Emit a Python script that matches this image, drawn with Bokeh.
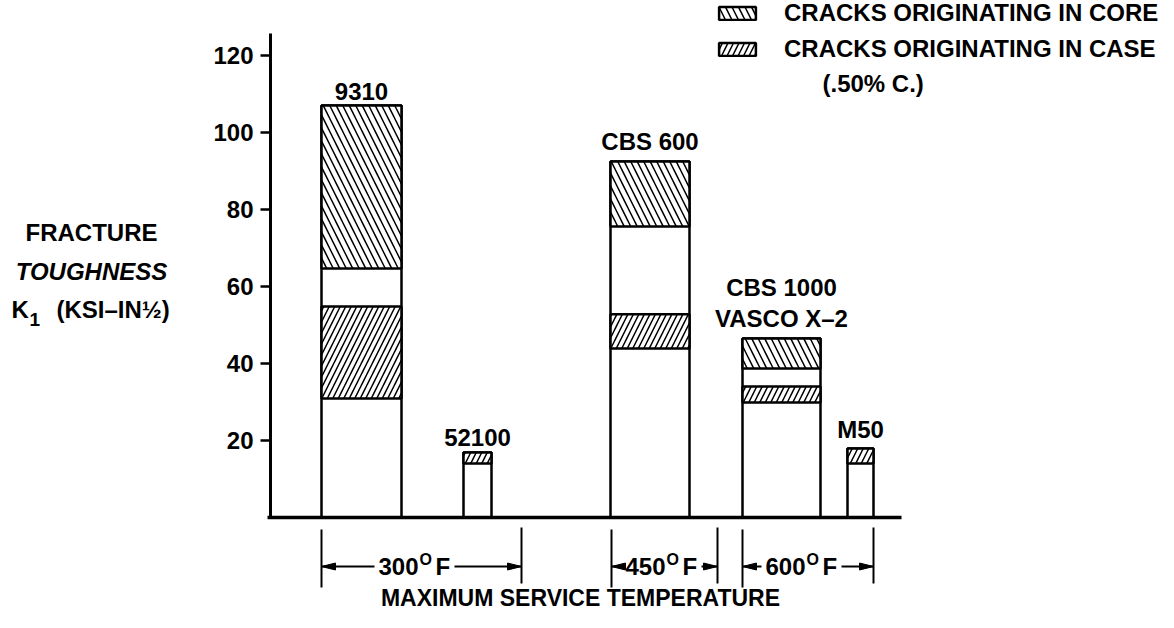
from bokeh.plotting import figure
from bokeh.models import Range1d, LinearAxis, FixedTicker, Legend, LegendItem, ColumnDataSource
from bokeh.core.properties import value
from bokeh.embed import file_html
from bokeh.resources import INLINE

# ---------------- data ----------------
alloys = ["9310", "52100", "CBS 600", "CBS 1000\nVASCO X\u20132", "M50"]
total = [107.0, 16.9, 92.5, 46.5, 17.9]
case_low = [30.9, 14.0, 43.9, 29.9, 14.0]
case_high = [54.8, 16.9, 52.8, 34.0, 17.9]
core_low = [64.7, None, 75.6, 38.7, None]
core_high = [107.0, None, 92.5, 46.5, None]
y_ticks = [20, 40, 60, 80, 100, 120]
temps = ["300", "450", "600"]
legend_labels = ["CRACKS ORIGINATING IN CORE", "CRACKS ORIGINATING IN CASE"]
legend_note = "(.50% C.)"
y_title = ["FRACTURE", "TOUGHNESS"]
x_title = "MAXIMUM SERVICE TEMPERATURE"

# ---------------- layout (pixel positions of the picture) ----------------
W, H = 1158, 612
Y0, PPU = 517.0, 3.85          # pixel row of value 0, pixels per unit


def vy(py):
    return (Y0 - py) / PPU


def du(px):
    return px / PPU


bar_x = [361, 477, 649.5, 781, 860]
bar_w = [80, 28, 79, 78, 26]
brackets = [(321, 521, 418), (611, 717, 665), (742, 873, 805)]
FONT = value("Liberation Sans")
FS = "24px"

p = figure(width=W, height=H, x_range=Range1d(0, W), y_range=Range1d(vy(H), vy(0)),
           x_axis_type=None, y_axis_type=None, output_backend="svg", toolbar_location=None,
           min_border=0, outline_line_color=None, background_fill_color="white",
           border_fill_color="white")

# axes
yaxis = LinearAxis(fixed_location=270, bounds=(0, vy(33)), ticker=FixedTicker(ticks=y_ticks),
                   axis_line_width=3, axis_line_color="black",
                   major_tick_line_width=2.5, major_tick_out=10, major_tick_in=0,
                   minor_tick_out=0, minor_tick_in=0,
                   major_label_text_font="Liberation Sans", major_label_text_font_style="bold",
                   major_label_text_font_size=FS, major_label_text_color="black",
                   major_label_standoff=7)
p.add_layout(yaxis, "left")
xaxis = LinearAxis(fixed_location=0, bounds=(267, 901), ticker=FixedTicker(ticks=[]),
                   axis_line_width=3.5, axis_line_color="black",
                   major_tick_out=0, major_tick_in=0, minor_tick_out=0, minor_tick_in=0,
                   major_label_text_font_size="0px")
p.add_layout(xaxis, "below")

# bars
src = ColumnDataSource(dict(x=bar_x, w=bar_w, total=total, lo=case_low, hi=case_high, name=alloys))
p.vbar(x="x", width="w", bottom=0, top="total", source=src, fill_color="white",
       line_color="black", line_width=2.5)
case_r = p.vbar(x="x", width="w", bottom="lo", top="hi", source=src, fill_color="white",
                hatch_pattern="/", hatch_color="black", hatch_scale=11, hatch_weight=1.5,
                line_color="black", line_width=2.5)
ci = [i for i, v in enumerate(core_low) if v is not None]
core_src = ColumnDataSource(dict(x=[bar_x[i] for i in ci], w=[bar_w[i] for i in ci],
                                 lo=[core_low[i] for i in ci], hi=[core_high[i] for i in ci]))
core_r = p.vbar(x="x", width="w", bottom="lo", top="hi", source=core_src, fill_color="white",
                hatch_pattern="\\", hatch_color="black", hatch_scale=13, hatch_weight=1.5,
                line_color="black", line_width=2.5)

p.text(x="x", y="total", text="name", source=src, text_align="center", text_baseline="bottom",
       y_offset=-6, text_font=FONT, text_font_style="bold", text_font_size=FS,
       text_color="black", text_line_height=1.15)

# legend
legend = Legend(items=[LegendItem(label=legend_labels[0], renderers=[core_r]),
                       LegendItem(label=legend_labels[1], renderers=[case_r])],
                location=(714, 549), glyph_width=46, glyph_height=16, label_standoff=24,
                label_text_font="Liberation Sans", label_text_font_style="bold",
                label_text_font_size=FS, label_text_color="black", spacing=8,
                padding=0, margin=0, border_line_color=None, background_fill_alpha=0)
p.add_layout(legend, "center")
p.text(x=[822], y=[vy(83)], text=[legend_note], text_align="left", text_baseline="middle",
       text_font=FONT, text_font_style="bold", text_font_size=FS, text_color="black")

# y title
p.text(x=[91, 91], y=[vy(232), vy(271)], text=y_title, text_align="center",
       text_baseline="middle", text_font=FONT, text_font_style=["bold", "bold italic"],
       text_font_size=FS, text_color="black")
p.text(x=[11], y=[vy(309)], text=["K"], text_align="left", text_baseline="middle",
       text_font=FONT, text_font_style="bold", text_font_size=FS, text_color="black")
p.text(x=[29], y=[vy(319)], text=["1"], text_align="left", text_baseline="middle",
       text_font=FONT, text_font_style="bold", text_font_size="19px", text_color="black")
p.text(x=[56], y=[vy(309)], text=["(KSI\u2013IN\u00bd)"], text_align="left", text_baseline="middle",
       text_font=FONT, text_font_style="bold", text_font_size=FS, text_color="black")

# temperature brackets
AY = 566
for (xl, xr, xs), t in zip(brackets, temps):
    p.segment(x0=[xl, xr], y0=[vy(529), vy(527)], x1=[xl, xr], y1=[vy(587), vy(583)],
              line_color="black", line_width=2)
    p.text(x=[xs], y=[vy(AY)], text=[t], text_align="right", text_baseline="middle",
           text_font=FONT, text_font_style="bold", text_font_size=FS, text_color="black")
    p.text(x=[xs + 1], y=[vy(AY - 7)], text=["O"], text_align="left", text_baseline="middle",
           text_font=FONT, text_font_style="bold", text_font_size="16px", text_color="black")
    p.text(x=[xs + 17], y=[vy(AY)], text=["F"], text_align="left", text_baseline="middle",
           text_font=FONT, text_font_style="bold", text_font_size=FS, text_color="black")
    ls, rs = xs - 44, xs + 36
    p.segment(x0=[xl, rs], y0=[vy(AY)] * 2, x1=[ls, xr], y1=[vy(AY)] * 2,
              line_color="black", line_width=2)
    hw = du(3.5)
    p.patches(xs=[[xl, xl + 14, xl + 14], [xr, xr - 14, xr - 14]],
              ys=[[vy(AY), vy(AY) + hw, vy(AY) - hw]] * 2,
              fill_color="black", line_color="black", line_width=1)

p.text(x=[580], y=[vy(597)], text=[x_title], text_align="center", text_baseline="middle",
       text_font=FONT, text_font_style="bold", text_font_size="23px", text_color="black")

open("out.html", "w").write(file_html(p, INLINE))
